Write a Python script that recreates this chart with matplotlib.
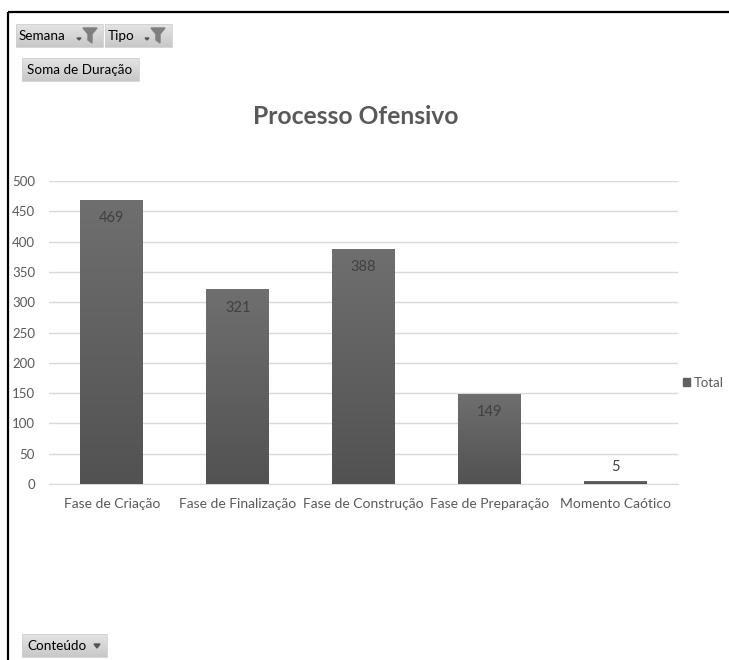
import matplotlib
matplotlib.use("Agg")
import matplotlib.pyplot as plt
import numpy as np
from matplotlib.patches import Rectangle, Polygon

# ---- data ----
categories = ["Fase de Criação", "Fase de Finalização", "Fase de Construção",
              "Fase de Preparação", "Momento Caótico"]
values = [469, 321, 388, 149, 5]
yticks = [0, 50, 100, 150, 200, 250, 300, 350, 400, 450, 500]
title = "Processo Ofensivo"
series_name = "Total"
filter_fields = ["Semana", "Tipo"]
value_field = "Soma de Duração"
axis_field = "Conteúdo"

plt.rcParams['font.family'] = ['Lato', 'DejaVu Sans']

W, H = 729, 660
fig = plt.figure(figsize=(W / 100, H / 100), dpi=100)
fig.patch.set_facecolor('white')

def fx(px):
    return px / W

def fy(py):
    return 1 - py / H

# overlay axes in pixel coordinates for pivot-chart decorations
ov = fig.add_axes([0, 0, 1, 1], zorder=0)
ov.set_xlim(0, W)
ov.set_ylim(H, 0)
ov.axis('off')

# frame lines
ov.plot([8, W], [12, 12], color='black', lw=1.6, solid_capstyle='butt')
ov.plot([8, 8], [12, H], color='black', lw=1.6, solid_capstyle='butt')

grad_btn = np.linspace(0, 1, 50).reshape(-1, 1)
btn_cmap = matplotlib.colors.LinearSegmentedColormap.from_list('b', ['#e4e4e4', '#c8c8c8'])

def button(x0, y0, x1, y1):
    ov.imshow(grad_btn, extent=[x0, x1, y1, y0], cmap=btn_cmap, aspect='auto',
              zorder=1, origin='upper')
    ov.add_patch(Rectangle((x0, y0), x1 - x0, y1 - y0, fill=False, ec='#d0d0d0',
                           lw=0.6, zorder=2))

def funnel(x, y):
    # small dropdown dash + funnel icon
    ov.add_patch(Polygon([(x - 6, y + 10), (x - 2, y + 10), (x - 4, y + 12)], closed=True,
                         color='#555555', zorder=3))
    ov.add_patch(Polygon([(x, y), (x + 14, y), (x + 9, y + 6), (x + 9, y + 15),
                          (x + 5, y + 12), (x + 5, y + 6)], closed=True,
                         color='#7f7f7f', zorder=3))

fs_btn = 9.7
# filter buttons
button(16, 24, 103, 47)
ov.text(19, 36, filter_fields[0], fontsize=fs_btn, va='center', ha='left', color='black', zorder=3)
funnel(83, 28)
button(105, 24, 172, 47)
ov.text(108, 36, filter_fields[1], fontsize=fs_btn, va='center', ha='left', color='black', zorder=3)
funnel(151, 28)

# value field button
button(22, 58, 139, 81)
ov.text(27, 70, value_field, fontsize=fs_btn, va='center', ha='left', color='black', zorder=3)

# axis field button
button(22, 634, 107, 657)
ov.text(27, 646, axis_field, fontsize=fs_btn, va='center', ha='left', color='black', zorder=3)
ov.add_patch(Polygon([(94, 644), (100, 644), (97, 648)], closed=True, color='#555555', zorder=3))

# title
fig.text(fx(356), fy(116), title, fontsize=17.7, fontweight='bold', color='#595959',
         ha='center', va='center')

# ---- main chart ----
ax = fig.add_axes([fx(49), fy(484), fx(678) - fx(49), fy(181) - fy(484)], zorder=2)
ax.patch.set_alpha(0)
x = np.arange(len(categories))
bars = ax.bar(x, values, width=0.5, color='#606060', zorder=3, label=series_name)

# vertical gradient fill for each bar
cmap = matplotlib.colors.LinearSegmentedColormap.from_list('g', ['#6f6f6f', '#525252'])
grad = np.linspace(0, 1, 256).reshape(-1, 1)
for b in bars:
    bx, by = b.get_x(), b.get_y()
    bw, bh = b.get_width(), b.get_height()
    im = ax.imshow(grad, extent=[bx, bx + bw, by, by + bh], cmap=cmap, aspect='auto',
                   origin='upper', zorder=4)
    im.set_clip_path(b)

ax.set_xlim(-0.5, len(categories) - 0.5)
ax.set_ylim(0, 500)
ax.set_yticks(yticks)
ax.set_xticks(x)
ax.set_xticklabels(categories)
ax.tick_params(axis='both', length=0, labelsize=10, labelcolor='#595959')
ax.tick_params(axis='x', pad=10)
ax.tick_params(axis='y', labelsize=9.5, pad=10)
ax.grid(axis='y', color='#d9d9d9', lw=1, zorder=1)
for s in ['top', 'right', 'left']:
    ax.spines[s].set_visible(False)
ax.spines['bottom'].set_color('#d9d9d9')

# data labels
for b, v in zip(bars, values):
    cx = b.get_x() + b.get_width() / 2
    if v >= 40:
        ax.annotate(str(v), (cx, v), xytext=(0, -13), textcoords='offset points',
                    ha='center', va='center', fontsize=10.5, color='#404040', zorder=6)
    else:
        ax.annotate(str(v), (cx, v), xytext=(0, 10), textcoords='offset points',
                    ha='center', va='center', fontsize=10.5, color='#404040', zorder=6)

# legend
leg = ax.legend(handles=[Rectangle((0, 0), 1, 1, color='#606060')], labels=[series_name],
                loc='center left', bbox_to_anchor=(fx(683), fy(383)),
                bbox_transform=fig.transFigure, frameon=False, fontsize=9.5,
                handlelength=0.55, handleheight=0.55, handletextpad=0.3, borderpad=0,
                borderaxespad=0)
for t in leg.get_texts():
    t.set_color('#595959')

fig.savefig('out.png', dpi=100)
